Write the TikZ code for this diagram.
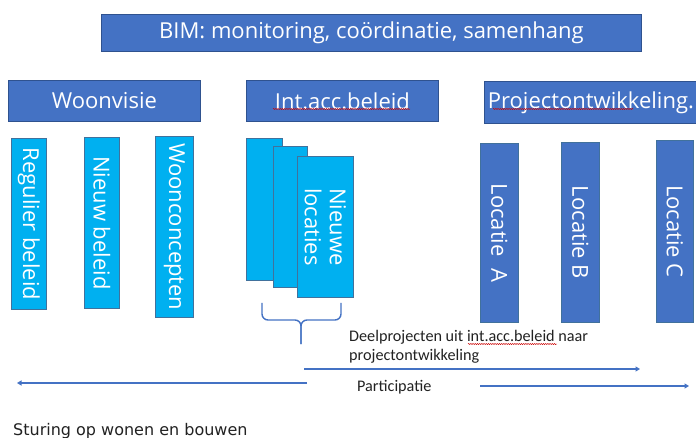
\documentclass[tikz,border=0pt]{standalone}
\usepackage{fontspec}
\newfontfamily\boxfont{Open Sans}
\newfontfamily\calfont{Carlito}
\newfontfamily\verfont{DejaVu Sans}
\usetikzlibrary{arrows.meta,decorations.pathmorphing}
\definecolor{dblue}{HTML}{4472C4}
\definecolor{lblue}{HTML}{00B0F0}
\definecolor{bord}{HTML}{2F528F}
\definecolor{lbord}{HTML}{41719C}
\definecolor{txt}{HTML}{222222}
\begin{document}
\begin{tikzpicture}[x=1pt,y=-1pt,
  hbox/.style={draw=bord, fill=dblue, line width=0.8pt, inner sep=0pt, anchor=north west,
    text=white, font=\boxfont\fontsize{22}{26}\selectfont},
  lbox/.style={draw=lbord, fill=lblue, line width=0.8pt, inner sep=0pt, anchor=north west},
  vbox/.style={draw=lbord, fill=dblue, line width=0.8pt, inner sep=0pt, anchor=north west},
  vtext/.style={rotate=-90, text=white, inner sep=0pt, align=left,
    font=\boxfont\fontsize{22}{25}\selectfont},
  arr/.style={draw=dblue, line width=2pt, -{Triangle[length=4.5pt,width=5pt]}},
  bracestyle/.style={draw=dblue, line width=1.4pt, rounded corners=6pt},
  calt/.style={text=txt, inner sep=0pt, anchor=west, font=\calfont\fontsize{16.2}{19}\selectfont},
  squig/.style={draw=red!80!black, line width=0.45pt, decorate,
    decoration={snake, segment length=2.2pt, amplitude=0.6pt}}
]
\clip (0,0) rectangle (696,438);
\fill[white] (0,0) rectangle (696,438);

% top row
\node[hbox, minimum width=540pt, minimum height=37pt] (bim) at (101,14) {BIM: monitoring, coördinatie, samenhang};
\node[hbox, minimum width=192pt, minimum height=41pt] (woon) at (8,80) {Woonvisie};
\node[hbox, minimum width=192pt, minimum height=41pt] (iab) at (246,80) {Int.acc.beleid};
\node[hbox, minimum width=213pt, minimum height=42pt] (proj) at (484,81) {Projectontwikkeling.};

% Woonvisie columns
\node[lbox, minimum width=35pt, minimum height=171pt] (reg) at (11,138) {};
\node[vtext] (regt) at (reg.center) {Regulier beleid};
\node[lbox, minimum width=35pt, minimum height=171pt] (nb) at (84,137) {};
\node[vtext] (nbt) at (nb.center) {Nieuw beleid};
\node[lbox, minimum width=38pt, minimum height=181pt] (wc) at (155,136) {};
\node[vtext] (wct) at (wc.center) {Woonconcepten};

% stack
\node[lbox, minimum width=36pt, minimum height=142pt] (s1) at (246,138) {};
\node[lbox, minimum width=34pt, minimum height=141pt] (s2) at (273,146) {};
\node[lbox, minimum width=56pt, minimum height=141pt] (s3) at (297,156) {};
\node[vtext] (s3t) at (s3.center) {Nieuwe\\locaties};

% Locaties
\node[vbox, minimum width=38pt, minimum height=179pt] (la) at (480,143) {};
\node[vtext] (lat) at (la.center) {Locatie\ \ A};
\node[vbox, minimum width=38pt, minimum height=180pt] (lb) at (561,142) {};
\node[vtext] (lbt) at (lb.center) {Locatie B};
\node[vbox, minimum width=37pt, minimum height=182pt] (lc) at (656,140) {};
\node[vtext] (lct) at (lc.center) {Locatie C};

% brace
\coordinate (brl) at (262,303);
\coordinate (brr) at (341,303);
\coordinate (brm) at (301,320);
\coordinate (brt) at (301,344);
\draw[bracestyle] (brl) |- (brm) -- (brt);
\draw[bracestyle] (brr) |- (brm) -- (brt);

% texts
\node[calt] (d1) at (349,337) {Deelprojecten uit int.acc.beleid naar};
\node[calt] (d2) at (349,356) {projectontwikkeling};
\node[calt] (part) at (357,387) {Participatie};
\node[text=txt, inner sep=0pt, anchor=west, font=\verfont\fontsize{16}{19}\selectfont] (stur) at (13,431) {Sturing op wonen en bouwen};

% arrows
\coordinate (a1s) at (304,369);
\coordinate (a1e) at (640,369);
\draw[arr] (a1s) -- (a1e);
\coordinate (a2s) at (307,383);
\coordinate (a2e) at (17,383);
\draw[arr] (a2s) -- (a2e);
\coordinate (a3s) at (480,386);
\coordinate (a3e) at (689,386);
\draw[arr] (a3s) -- (a3e);

% spell-check squiggles
\draw[squig] (273,109) -- (410,109);
\draw[squig] (493,109) -- (633,109);
\draw[squig] (468,344) -- (557,344);
\end{tikzpicture}
\end{document}
